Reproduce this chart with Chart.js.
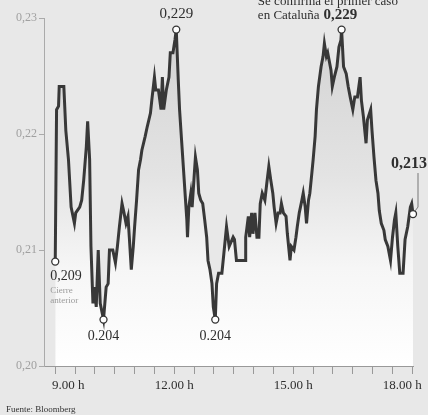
<!DOCTYPE html>
<html>
<head>
<meta charset="utf-8">
<script src="https://cdn.jsdelivr.net/npm/chart.js@4"></script>
<style>
  html, body { margin: 0; padding: 0; background: #e8e8e8; }
  #wrap { width: 428px; height: 415px; }
</style>
</head>
<body>
<div id="wrap"><canvas id="chart" width="428" height="415"></canvas></div>
<script>
// minutes after 9:00 and price in euros
const minutes = [0, 2, 5, 6, 13, 16, 20, 24, 29, 31, 37, 40, 43, 47, 49, 52, 54, 57, 59, 62,
    65, 68, 73, 77, 80, 82, 87, 91, 94, 97, 101, 104, 107, 110, 112, 115, 118, 120, 123, 126,
    129, 131, 136, 139, 144, 146, 150, 152, 156, 160, 162, 164, 168, 172, 174, 178, 181, 183, 186, 188,
    191, 194, 197, 199, 200, 202, 205, 207, 210, 212, 215, 217, 220, 223, 226, 229, 231, 234, 237, 239,
    242, 244, 247, 252, 255, 259, 263, 269, 271, 274, 287, 288, 292, 294, 297, 299, 302, 305, 308, 310,
    313, 317, 320, 323, 326, 329, 331, 334, 337, 340, 342, 345, 349, 351, 355, 357, 361, 364, 366, 369,
    373, 375, 378, 380, 383, 385, 388, 390, 393, 395, 398, 402, 405, 407, 410, 412, 417, 419, 422, 426,
    429, 432, 433, 436, 440, 443, 446, 450, 453, 457, 461, 463, 466, 470, 472, 477, 479, 482, 485, 488,
    490, 493, 497, 499, 503, 507, 510, 513, 515, 518, 521, 526, 529, 533, 537, 539, 541];
const prices = [0.2090, 0.2221, 0.2224, 0.2241, 0.2241, 0.2203, 0.2178, 0.2137, 0.2123, 0.2132,
    0.2137, 0.2143, 0.2160, 0.2189, 0.2211, 0.2178, 0.2103, 0.2054, 0.2068, 0.2051,
    0.2100, 0.2054, 0.2040, 0.2068, 0.2071, 0.2100, 0.2100, 0.2089, 0.2103, 0.2120,
    0.2140, 0.2132, 0.2123, 0.2129, 0.2111, 0.2083, 0.2103, 0.2120, 0.2143, 0.2169,
    0.2178, 0.2186, 0.2198, 0.2206, 0.2218, 0.2229, 0.2249, 0.2238, 0.2238, 0.2221,
    0.2249, 0.2221, 0.2238, 0.2249, 0.2270, 0.2270, 0.2281, 0.2290, 0.2247, 0.2221,
    0.2195, 0.2169, 0.2143, 0.2126, 0.2111, 0.2137, 0.2149, 0.2137, 0.2163, 0.2180,
    0.2169, 0.2149, 0.2143, 0.2140, 0.2126, 0.2111, 0.2091, 0.2083, 0.2071, 0.2051,
    0.2040, 0.2071, 0.2080, 0.2080, 0.2097, 0.2120, 0.2103, 0.2111, 0.2109, 0.2091,
    0.2091, 0.2111, 0.2129, 0.2111, 0.2132, 0.2114, 0.2132, 0.2111, 0.2111, 0.2140,
    0.2149, 0.2143, 0.2158, 0.2172, 0.2160, 0.2149, 0.2137, 0.2123, 0.2132, 0.2132,
    0.2140, 0.2132, 0.2129, 0.2114, 0.2091, 0.2103, 0.2100, 0.2111, 0.2120, 0.2132,
    0.2143, 0.2149, 0.2137, 0.2123, 0.2143, 0.2149, 0.2166, 0.2178, 0.2198, 0.2221,
    0.2241, 0.2258, 0.2267, 0.2278, 0.2267, 0.2270, 0.2255, 0.2241, 0.2249, 0.2258,
    0.2275, 0.2281, 0.2290, 0.2258, 0.2252, 0.2241, 0.2232, 0.2221, 0.2232, 0.2232,
    0.2249, 0.2229, 0.2215, 0.2192, 0.2212, 0.2221, 0.2203, 0.2180, 0.2160, 0.2149,
    0.2134, 0.2123, 0.2117, 0.2109, 0.2103, 0.2091, 0.2111, 0.2126, 0.2132, 0.2103,
    0.2080, 0.2080, 0.2109, 0.2120, 0.2137, 0.2140, 0.2131];

// highlighted points (minutes after 9:00)
const markAt = [0, 73, 183, 242, 433, 541];
const yTicks = [0.20, 0.21, 0.22, 0.23];
const xTicks = [0, 30, 60, 90, 120, 150, 180, 210, 240, 270, 300, 330, 360, 390, 420, 450, 480, 510, 540];
const xTickLabels = ['9.00 h', '12.00 h', '15.00 h', '18.00 h'];
const xLabelAt = [0, 180, 360, 540];

const serif = '"Liberation Serif", "DejaVu Serif", serif';

function underFill(context) {
    const area = context.chart.chartArea;
    if (!area) return 'rgba(0,0,0,0)';
    const g = context.chart.ctx.createLinearGradient(0, area.top, 0, area.bottom);
    g.addColorStop(0, '#d2d2d2');
    g.addColorStop(0.45, '#e3e3e3');
    g.addColorStop(0.72, '#f6f6f6');
    g.addColorStop(1, '#ffffff');
    return g;
}

const labelsPlugin = {
    id: 'labels',
    afterDraw(chart) {
        const ctx = chart.ctx;
        const x = chart.scales.x;
        const y = chart.scales.y;
        const px = m => x.getPixelForValue(m);
        const py = m => y.getPixelForValue(prices[minutes.indexOf(m)]);

        ctx.save();
        ctx.fillStyle = '#2e2e2e';
        ctx.textBaseline = 'middle';

        // time labels under the axis
        ctx.font = '13px ' + serif;
        const shift = [13, 0, 0, -10];
        xLabelAt.forEach((m, i) => {
            ctx.textAlign = 'center';
            ctx.fillText(xTickLabels[i], px(m) + shift[i], 386);
        });

        // previous close
        ctx.font = '14px ' + serif;
        ctx.textAlign = 'left';
        ctx.fillText('0,209', px(0) - 5, py(0) + 15);
        ctx.font = '9px ' + serif;
        ctx.fillStyle = '#9a9a9a';
        ctx.fillText('Cierre', px(0) - 5, py(0) + 29);
        ctx.fillText('anterior', px(0) - 5, py(0) + 39);

        // lows
        ctx.fillStyle = '#2e2e2e';
        ctx.font = '14px ' + serif;
        ctx.textAlign = 'center';
        ctx.fillText('0.204', px(73), py(73) + 17);
        ctx.fillText('0.204', px(242), py(242) + 17);

        // highs
        ctx.font = '15px ' + serif;
        ctx.fillText('0,229', px(183), py(183) - 16);

        ctx.textBaseline = 'alphabetic';
        ctx.font = '13px ' + serif;
        const lead = 'en Cataluña';
        const leadW = ctx.measureText(lead).width;
        const leftX = px(433) - 22 - leadW;
        ctx.textAlign = 'left';
        ctx.fillText('Se confirma el primer caso', leftX, 5);
        ctx.fillText(lead, leftX, 19);
        ctx.font = 'bold 15px ' + serif;
        ctx.fillText('0,229', px(433) - 18, 19);

        // last price with leader line
        ctx.textBaseline = 'middle';
        ctx.font = 'bold 16px ' + serif;
        ctx.fillText('0,213', px(541) - 22, py(541) - 50);
        ctx.strokeStyle = '#777';
        ctx.lineWidth = 1;
        ctx.beginPath();
        ctx.moveTo(px(541) + 5, py(541) - 41);
        ctx.lineTo(px(541) + 5, py(541) - 7);
        ctx.lineTo(px(541) + 2, py(541) - 3);
        ctx.stroke();

        ctx.font = '9px ' + serif;
        ctx.fillStyle = '#333';
        ctx.fillText('Fuente: Bloomberg', 6, 410);
        ctx.restore();
    }
};

new Chart(document.getElementById('chart'), {
    type: 'line',
    data: {
        datasets: [{
            data: minutes.map((m, i) => ({ x: m, y: prices[i] })),
            borderColor: '#383838',
            borderWidth: 3,
            borderJoinStyle: 'miter',
            tension: 0,
            fill: 'start',
            backgroundColor: underFill,
            pointRadius: c => markAt.includes(minutes[c.dataIndex]) ? 3.5 : 0,
            pointBackgroundColor: '#ffffff',
            pointBorderColor: '#333',
            pointBorderWidth: 1.3,
            clip: false
        }]
    },
    options: {
        responsive: false,
        animation: false,
        events: [],
        layout: { padding: { top: 18, right: 15, left: 0, bottom: 0 } },
        plugins: { legend: { display: false }, tooltip: { enabled: false } },
        scales: {
            x: {
                type: 'linear',
                min: -17,
                max: 541,
                afterBuildTicks: s => { s.ticks = xTicks.map(v => ({ value: v })); },
                afterFit: s => { s.height = 49; },
                ticks: { display: false },
                grid: { drawOnChartArea: false, tickLength: 8, color: '#999' },
                border: { color: '#999' }
            },
            y: {
                min: 0.20,
                max: 0.23,
                afterBuildTicks: s => { s.ticks = yTicks.map(v => ({ value: v })); },
                afterFit: s => { s.width = 44; },
                ticks: {
                    callback: v => v.toFixed(2).replace('.', ','),
                    color: '#a0a0a0',
                    font: { family: serif, size: 12 },
                    padding: 2
                },
                grid: { drawOnChartArea: false, tickLength: 5, color: '#aaa' },
                border: { color: '#aaa' }
            }
        }
    },
    plugins: [labelsPlugin]
});
</script>
</body>
</html>
